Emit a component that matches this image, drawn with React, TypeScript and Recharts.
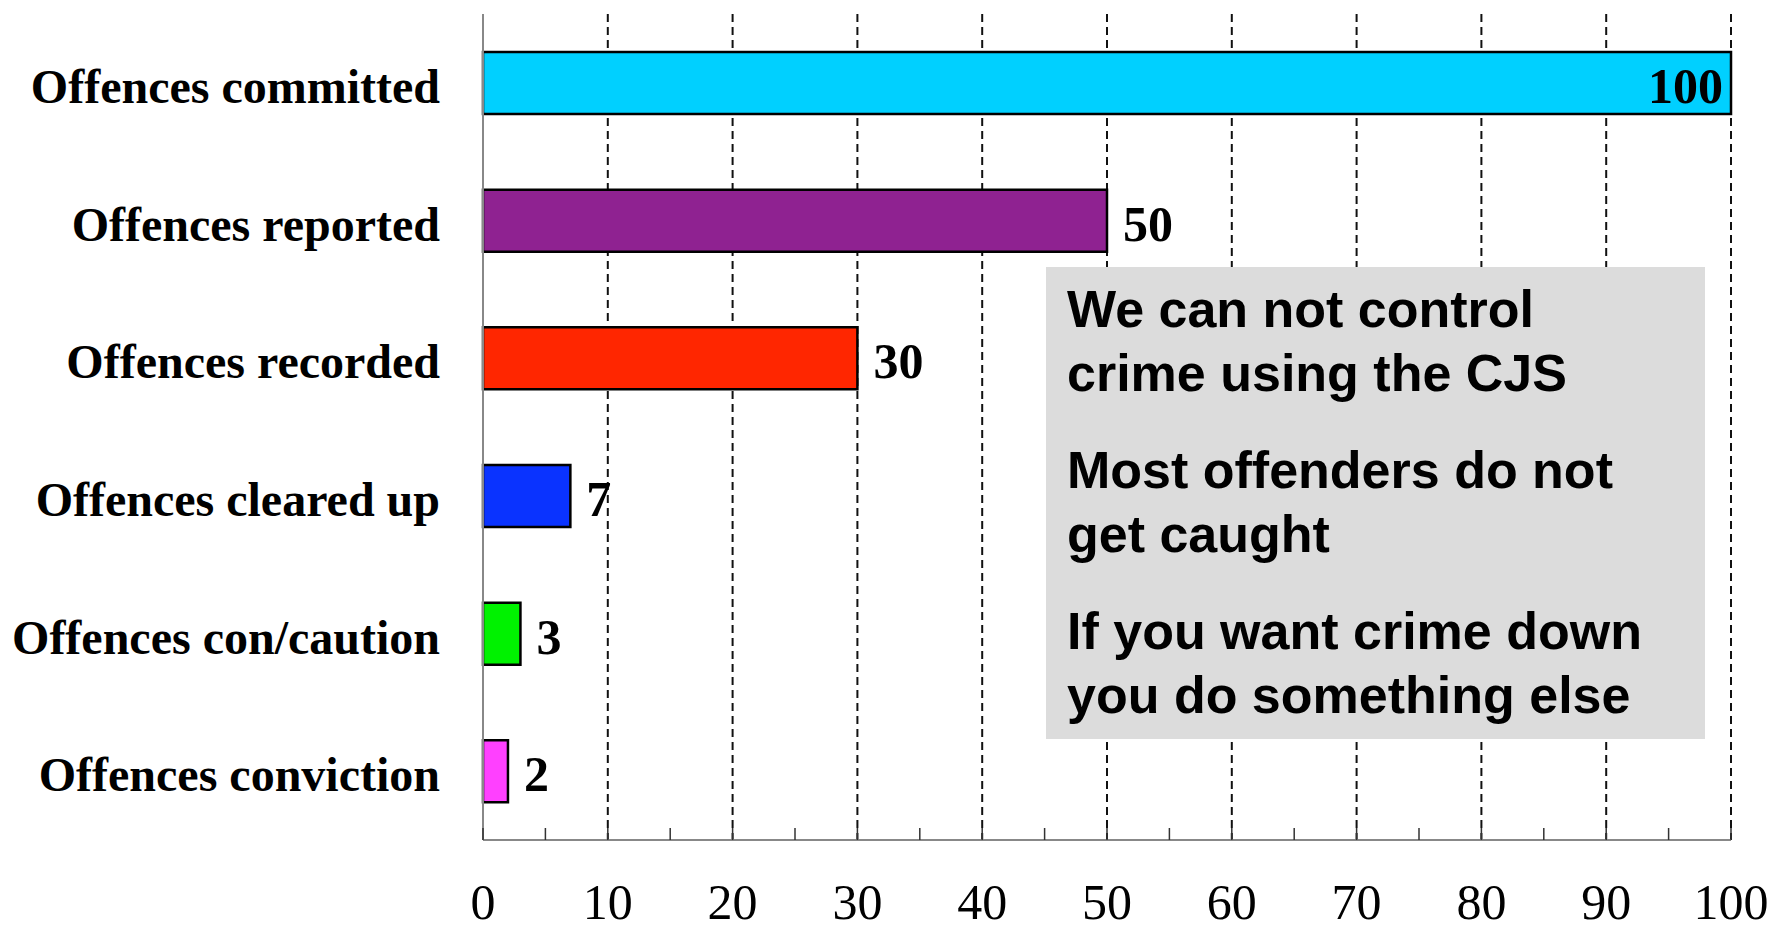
import { Bar, BarChart, CartesianGrid, Cell, LabelList, XAxis, YAxis } from "recharts";

const categories = [
  "Offences committed",
  "Offences reported",
  "Offences recorded",
  "Offences cleared up",
  "Offences con/caution",
  "Offences conviction",
];
const values = [100, 50, 30, 7, 3, 2];
const barColors = ["#00D0FF", "#8F2291", "#FF2600", "#0A33FF", "#00F200", "#FF40FF"];
const xTicks = [0, 5, 10, 15, 20, 25, 30, 35, 40, 45, 50, 55, 60, 65, 70, 75, 80, 85, 90, 95, 100];
const gridValues = [10, 20, 30, 40, 50, 60, 70, 80, 90, 100];
const notes = [
  ["We can not control", "crime using the CJS"],
  ["Most offenders do not", "get caught"],
  ["If you want crime down", "you do something else"],
];

const data = categories.map((name, i) => ({ name, value: values[i] }));
const maxValue = Math.max(...values);

const serif = "'Liberation Serif', 'Times New Roman', serif";
const sans = "'Liberation Sans', Arial, sans-serif";

function XTick(props: any) {
  const { x, y, payload } = props;
  const v = payload.value;
  return (
    <g>
      <line x1={x} x2={x} y1={y} y2={y - 12} stroke="#333" strokeWidth={1.5} />
      {v % 10 === 0 && (
        <text x={x} y={y + 79} textAnchor="middle" fontFamily={serif} fontSize={50} fill="#000">
          {v}
        </text>
      )}
    </g>
  );
}

function YTick(props: any) {
  const { x, y, payload } = props;
  return (
    <text
      x={x}
      y={y + 20}
      textAnchor="end"
      fontFamily={serif}
      fontWeight="bold"
      fontSize={48}
      fill="#000"
    >
      {payload.value}
    </text>
  );
}

function ValueLabel(props: any) {
  const { x, y, width, height, value } = props;
  const inside = value === maxValue;
  return (
    <text
      x={inside ? x + width - 8 : x + width + 16}
      y={y + height / 2 + 20}
      textAnchor={inside ? "end" : "start"}
      fontFamily={serif}
      fontWeight="bold"
      fontSize={50}
      fill="#000"
    >
      {value}
    </text>
  );
}

export default function App() {
  return (
    <div style={{ position: "absolute", left: 0, top: 0, width: 1768, height: 932, background: "#fff" }}>
      <BarChart
        width={1768}
        height={932}
        data={data}
        layout="vertical"
        margin={{ top: 14, right: 37, bottom: 0, left: 0 }}
      >
        <CartesianGrid
          horizontal={false}
          verticalValues={gridValues}
          stroke="#111"
          strokeWidth={2}
          strokeDasharray="8 5"
        />
        <XAxis
          type="number"
          domain={[0, 100]}
          ticks={xTicks}
          interval={0}
          height={92}
          tickLine={false}
          tickSize={0}
          tickMargin={0}
          axisLine={{ stroke: "#888", strokeWidth: 2 }}
          tick={<XTick />}
        />
        <YAxis
          type="category"
          dataKey="name"
          width={483}
          tickLine={false}
          tickSize={0}
          tickMargin={43}
          axisLine={{ stroke: "#888", strokeWidth: 2 }}
          tick={<YTick />}
        />
        <Bar dataKey="value" barSize={62} stroke="#000" strokeWidth={2.5} isAnimationActive={false}>
          {data.map((d, i) => (
            <Cell key={d.name} fill={barColors[i]} />
          ))}
          <LabelList dataKey="value" content={<ValueLabel />} />
        </Bar>
      </BarChart>
      <div
        style={{
          position: "absolute",
          left: 1046,
          top: 267,
          width: 659,
          height: 472,
          background: "#DCDCDC",
          boxSizing: "border-box",
          padding: "10px 0 0 21px",
          fontFamily: sans,
          fontWeight: "bold",
          fontSize: 52,
          lineHeight: "64px",
          color: "#000",
        }}
      >
        {notes.map((para, i) => (
          <div key={i} style={{ marginBottom: 33 }}>
            {para.map((line) => (
              <div key={line} style={{ whiteSpace: "nowrap" }}>
                {line}
              </div>
            ))}
          </div>
        ))}
      </div>
    </div>
  );
}
